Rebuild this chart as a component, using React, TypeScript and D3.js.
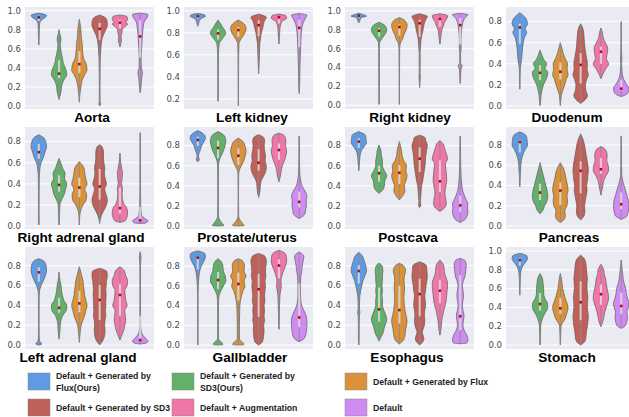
import React from "react";
import * as d3 from "d3";

type Shape = [number, number][];

const groups = [
  ["Default + Generated by", "Flux(Ours)"],
  ["Default + Generated by", "SD3(Ours)"],
  ["Default + Generated by Flux"],
  ["Default + Generated by SD3"],
  ["Default + Augmentation"],
  ["Default"],
];
const colors = ["#5E9BE3", "#62B06A", "#DA923A", "#C0605A", "#F076AA", "#D08BF2"];

const organs = [
  "Aorta", "Left kidney", "Right kidney", "Duodenum",
  "Right adrenal gland", "Prostate/uterus", "Postcava", "Pancreas",
  "Left adrenal gland", "Gallbladder", "Esophagus", "Stomach",
];
const titleCenters = [92, 252, 410, 567, 81, 247, 408, 569, 78, 250, 407, 567];

const yDomains: [number, number][] = [
  [-0.031, 1.039], [0.109, 1.034], [-0.039, 1.042], [-0.028, 0.939],
  [-0.028, 0.939], [-0.03, 0.986], [-0.03, 0.986], [-0.03, 0.978],
  [-0.04, 0.989], [-0.04, 0.995], [-0.04, 0.989], [-0.043, 1.043],
];
const ticksFull = [0, 0.2, 0.4, 0.6, 0.8, 1.0];
const ticksKidney = [0.2, 0.4, 0.6, 0.8, 1.0];
const ticks08 = [0, 0.2, 0.4, 0.6, 0.8];
const yTicks = [
  ticksFull, ticksKidney, ticksFull, ticks08,
  ticks08, ticks08, ticks08, ticks08,
  ticks08, ticks08, ticks08, ticksFull,
];

// violin profiles: [value, relative half-width]
const aortaShapes: Shape[] = [
  [[0.64,0],[0.7,0.04],[0.8,0.06],[0.86,0.1],[0.9,0.3],[0.93,0.85],[0.95,1],[0.965,0.6],[0.975,0]],
  [[0.07,0],[0.1,0.1],[0.15,0.25],[0.22,0.35],[0.27,0.6],[0.33,1],[0.38,0.9],[0.45,0.55],[0.5,0.45],[0.55,0.3],[0.6,0.2],[0.65,0.15],[0.7,0.25],[0.75,0.12],[0.8,0]],
  [[0.04,0],[0.1,0.05],[0.2,0.2],[0.28,0.4],[0.33,0.7],[0.38,1],[0.45,0.85],[0.5,0.55],[0.55,0.45],[0.6,0.4],[0.67,0.35],[0.72,0.25],[0.8,0.2],[0.86,0.1],[0.91,0]],
  [[0.0,0],[0.02,0.1],[0.05,0.05],[0.2,0.04],[0.4,0.06],[0.5,0.08],[0.6,0.15],[0.7,0.3],[0.75,0.5],[0.8,0.8],[0.85,1],[0.9,0.95],[0.93,0.7],[0.955,0]],
  [[0.62,0],[0.65,0.1],[0.7,0.2],[0.73,0.15],[0.76,0.25],[0.8,0.3],[0.83,0.6],[0.86,1],[0.88,0.8],[0.91,1],[0.94,0.9],[0.955,0]],
  [[0.14,0],[0.2,0.1],[0.3,0.2],[0.35,0.3],[0.4,0.15],[0.5,0.12],[0.6,0.18],[0.7,0.25],[0.8,0.35],[0.88,0.5],[0.93,0.9],[0.96,1],[0.975,0]],
];
const aortaMedians = [0.93, 0.34, 0.44, 0.81, 0.875, 0.73];

const leftKidneyShapes: Shape[] = [
  [[0.86,0],[0.88,0.1],[0.91,0.2],[0.93,0.45],[0.95,1],[0.965,0.8],[0.975,0]],
  [[0.18,0],[0.3,0.02],[0.5,0.03],[0.6,0.05],[0.7,0.15],[0.75,0.6],[0.8,1],[0.85,0.6],[0.88,0.35],[0.915,0]],
  [[0.14,0],[0.3,0.02],[0.5,0.03],[0.6,0.04],[0.7,0.08],[0.75,0.4],[0.8,0.85],[0.84,1],[0.88,0.75],[0.915,0]],
  [[0.43,0],[0.5,0.05],[0.6,0.1],[0.7,0.15],[0.75,0.25],[0.8,0.35],[0.85,0.55],[0.9,0.7],[0.94,1],[0.97,0]],
  [[0.7,0],[0.75,0.05],[0.8,0.1],[0.85,0.15],[0.88,0.25],[0.91,0.5],[0.93,1],[0.955,0.9],[0.97,0]],
  [[0.25,0],[0.3,0.05],[0.4,0.08],[0.5,0.1],[0.6,0.15],[0.7,0.2],[0.8,0.28],[0.88,0.45],[0.93,0.8],[0.96,1],[0.975,0]],
];
const leftKidneyMedians = [0.95, 0.795, 0.825, 0.87, 0.94, 0.845];

const rightKidneyShapes: Shape[] = [
  [[0.875,0],[0.9,0.15],[0.93,0.3],[0.945,1],[0.96,0.6],[0.975,0]],
  [[0.01,0],[0.2,0.02],[0.4,0.02],[0.6,0.03],[0.66,0.06],[0.7,0.3],[0.75,0.75],[0.8,1],[0.85,0.7],[0.88,0]],
  [[0.01,0],[0.3,0.02],[0.5,0.03],[0.6,0.05],[0.65,0.1],[0.7,0.4],[0.75,0.6],[0.8,0.9],[0.85,1],[0.9,0.7],[0.93,0]],
  [[0.19,0],[0.25,0.05],[0.3,0.08],[0.35,0.05],[0.45,0.06],[0.5,0.07],[0.55,0.05],[0.6,0.1],[0.7,0.18],[0.75,0.3],[0.8,0.45],[0.85,0.55],[0.9,0.75],[0.94,1],[0.97,0]],
  [[0.65,0],[0.7,0.1],[0.75,0.15],[0.8,0.25],[0.85,0.5],[0.88,0.6],[0.92,0.9],[0.95,1],[0.97,0]],
  [[0.23,0],[0.3,0.05],[0.38,0.1],[0.42,0.25],[0.45,0.05],[0.55,0.05],[0.6,0.12],[0.7,0.1],[0.8,0.2],[0.88,0.35],[0.93,0.65],[0.96,1],[0.975,0]],
];
const rightKidneyMedians = [0.95, 0.79, 0.83, 0.87, 0.915, 0.85];

const duodenumShapes: Shape[] = [
  [[0.16,0],[0.25,0.03],[0.35,0.06],[0.4,0.15],[0.45,0.25],[0.5,0.3],[0.55,0.35],[0.6,0.45],[0.65,0.6],[0.7,0.9],[0.73,0.7],[0.78,1],[0.83,0.8],[0.885,0]],
  [[0.005,0],[0.05,0.05],[0.1,0.1],[0.15,0.2],[0.2,0.35],[0.24,0.55],[0.28,0.75],[0.32,0.8],[0.36,0.5],[0.4,0.7],[0.44,0.4],[0.48,0.2],[0.53,0]],
  [[0.005,0],[0.05,0.05],[0.1,0.1],[0.15,0.25],[0.2,0.45],[0.25,0.6],[0.3,0.8],[0.35,0.7],[0.4,0.75],[0.45,0.5],[0.5,0.3],[0.55,0.15],[0.6,0]],
  [[0.025,0],[0.05,0.4],[0.1,0.8],[0.15,0.6],[0.2,0.55],[0.25,0.7],[0.3,0.9],[0.35,0.75],[0.4,0.8],[0.45,0.7],[0.5,0.6],[0.55,0.5],[0.6,0.45],[0.65,0.4],[0.7,0.35],[0.75,0.2],[0.78,0]],
  [[0.26,0],[0.3,0.2],[0.35,0.5],[0.4,0.85],[0.45,0.6],[0.5,0.7],[0.55,0.75],[0.6,0.5],[0.65,0.25],[0.7,0.15],[0.74,0]],
  [[0.09,0],[0.1,0.4],[0.13,0.9],[0.17,1],[0.2,0.75],[0.25,0.35],[0.3,0.15],[0.35,0.1],[0.4,0.05],[0.45,0.1],[0.5,0.05],[0.6,0.03],[0.7,0.02],[0.8,0]],
];
const duodenumMedians = [0.745, 0.315, 0.325, 0.39, 0.515, 0.165];

const rightAdrenalShapes: Shape[] = [
  [[0.01,0],[0.03,0.05],[0.1,0.03],[0.3,0.04],[0.45,0.06],[0.55,0.15],[0.6,0.3],[0.65,0.6],[0.7,0.8],[0.75,1],[0.8,0.9],[0.84,0.6],[0.865,0]],
  [[0.01,0],[0.1,0.05],[0.2,0.1],[0.25,0.3],[0.3,0.6],[0.35,0.75],[0.4,0.9],[0.45,0.65],[0.5,0.7],[0.55,0.4],[0.6,0.2],[0.64,0]],
  [[0.01,0],[0.1,0.05],[0.15,0.15],[0.2,0.4],[0.25,0.75],[0.3,0.8],[0.35,0.6],[0.4,0.85],[0.45,0.7],[0.5,0.6],[0.55,0.5],[0.61,0]],
  [[0.025,0],[0.1,0.2],[0.15,0.5],[0.2,0.8],[0.25,0.9],[0.3,0.75],[0.35,0.6],[0.4,0.8],[0.45,0.65],[0.5,0.55],[0.55,0.6],[0.6,0.5],[0.65,0.45],[0.7,0.45],[0.75,0.3],[0.77,0]],
  [[0.035,0],[0.05,0.6],[0.08,0.8],[0.12,0.9],[0.17,0.8],[0.22,0.4],[0.3,0.25],[0.35,0.3],[0.4,0.2],[0.45,0.25],[0.5,0.3],[0.55,0.2],[0.6,0.1],[0.69,0]],
  [[0.025,0],[0.03,0.6],[0.05,0.8],[0.07,0.5],[0.1,0.15],[0.2,0.05],[0.4,0.02],[0.6,0.02],[0.885,0]],
];
const rightAdrenalMedians = [0.70, 0.39, 0.365, 0.375, 0.17, 0.055];

const prostateShapes: Shape[] = [
  [[0.64,0],[0.66,0.2],[0.69,0.1],[0.72,0.15],[0.75,0.3],[0.8,0.5],[0.84,0.8],[0.88,1],[0.92,0.7],[0.95,0]],
  [[0.0,0],[0.005,0.75],[0.03,0.5],[0.07,0.15],[0.1,0.04],[0.3,0.02],[0.5,0.03],[0.6,0.06],[0.65,0.15],[0.7,0.4],[0.75,0.7],[0.8,0.9],[0.85,1],[0.9,0.8],[0.94,0]],
  [[0.0,0],[0.005,0.75],[0.03,0.5],[0.06,0.2],[0.1,0.04],[0.3,0.02],[0.5,0.04],[0.55,0.1],[0.6,0.4],[0.65,0.7],[0.7,0.9],[0.75,1],[0.8,0.85],[0.85,0.5],[0.875,0]],
  [[0.285,0],[0.32,0.1],[0.35,0.15],[0.4,0.2],[0.45,0.3],[0.5,0.6],[0.55,0.85],[0.6,0.9],[0.65,0.75],[0.7,0.8],[0.75,0.7],[0.8,0.65],[0.85,0.7],[0.88,0.6],[0.91,0]],
  [[0.44,0],[0.5,0.2],[0.55,0.3],[0.6,0.45],[0.65,0.7],[0.7,0.9],[0.75,1],[0.8,0.85],[0.85,0.9],[0.9,0.7],[0.925,0]],
  [[0.075,0],[0.1,0.5],[0.13,0.75],[0.17,0.8],[0.2,0.9],[0.25,0.85],[0.3,0.95],[0.35,0.7],[0.4,0.35],[0.45,0.2],[0.5,0.1],[0.6,0.05],[0.7,0.03],[0.895,0]],
];
const prostateMedians = [0.857, 0.777, 0.70, 0.63, 0.757, 0.24];

const postcavaShapes: Shape[] = [
  [[0.55,0],[0.6,0.05],[0.65,0.1],[0.7,0.15],[0.75,0.3],[0.8,0.7],[0.83,0.9],[0.86,0.85],[0.9,0.8],[0.94,0]],
  [[0.325,0],[0.35,0.3],[0.4,0.55],[0.45,0.6],[0.5,0.8],[0.55,0.55],[0.6,0.35],[0.65,0.35],[0.7,0.25],[0.75,0.2],[0.805,0]],
  [[0.26,0],[0.3,0.3],[0.35,0.5],[0.4,0.45],[0.45,0.6],[0.5,0.7],[0.55,0.6],[0.6,0.65],[0.65,0.4],[0.7,0.25],[0.75,0.2],[0.8,0.1],[0.84,0]],
  [[0.185,0],[0.2,0.15],[0.25,0.1],[0.3,0.15],[0.35,0.2],[0.4,0.25],[0.45,0.4],[0.5,0.5],[0.55,0.6],[0.6,0.7],[0.65,0.75],[0.7,0.8],[0.75,0.9],[0.8,1],[0.85,0.8],[0.88,0.7],[0.905,0]],
  [[0.145,0],[0.18,0.5],[0.22,0.7],[0.27,0.65],[0.32,0.55],[0.37,0.6],[0.42,0.7],[0.47,0.75],[0.52,0.7],[0.57,0.65],[0.62,0.6],[0.67,0.85],[0.72,0.7],[0.78,0.5],[0.82,0.35],[0.85,0]],
  [[0.035,0],[0.06,0.5],[0.1,0.8],[0.14,0.9],[0.18,0.85],[0.22,0.9],[0.26,0.7],[0.3,0.5],[0.35,0.3],[0.4,0.2],[0.5,0.1],[0.6,0.06],[0.7,0.04],[0.8,0.03],[0.895,0]],
];
const postcavaMedians = [0.84, 0.525, 0.53, 0.67, 0.445, 0.205];

const pancreasShapes: Shape[] = [
  [[0.39,0],[0.45,0.04],[0.5,0.05],[0.55,0.1],[0.6,0.12],[0.65,0.2],[0.7,0.35],[0.75,0.6],[0.8,0.9],[0.85,0.85],[0.89,0.75],[0.93,0]],
  [[0.12,0],[0.15,0.2],[0.2,0.35],[0.25,0.55],[0.3,0.6],[0.35,0.55],[0.4,0.45],[0.45,0.35],[0.5,0.25],[0.55,0.15],[0.625,0]],
  [[0.035,0],[0.06,0.3],[0.1,0.45],[0.15,0.4],[0.2,0.6],[0.25,0.65],[0.3,0.6],[0.35,0.7],[0.4,0.65],[0.45,0.55],[0.5,0.45],[0.55,0.35],[0.625,0]],
  [[0.06,0],[0.1,0.4],[0.15,0.5],[0.2,0.45],[0.25,0.55],[0.3,0.65],[0.35,0.75],[0.4,0.7],[0.45,0.8],[0.5,0.85],[0.55,0.9],[0.6,0.85],[0.65,0.75],[0.7,0.65],[0.75,0.55],[0.8,0.45],[0.85,0.3],[0.91,0]],
  [[0.305,0],[0.35,0.1],[0.4,0.2],[0.45,0.3],[0.5,0.55],[0.55,0.8],[0.6,0.75],[0.65,0.6],[0.7,0.65],[0.75,0.5],[0.785,0]],
  [[0.065,0],[0.1,0.6],[0.15,0.75],[0.2,0.8],[0.25,0.75],[0.3,0.6],[0.35,0.45],[0.4,0.3],[0.45,0.15],[0.5,0.06],[0.6,0.04],[0.7,0.03],[0.89,0]],
];
const pancreasMedians = [0.83, 0.33, 0.35, 0.545, 0.56, 0.215];

const leftAdrenalShapes: Shape[] = [
  [[0.0,0],[0.01,0.4],[0.04,0.1],[0.1,0.04],[0.3,0.03],[0.5,0.05],[0.55,0.1],[0.6,0.3],[0.65,0.6],[0.7,0.85],[0.75,1],[0.8,0.95],[0.85,0.6],[0.87,0]],
  [[0.06,0],[0.1,0.05],[0.15,0.1],[0.2,0.12],[0.25,0.2],[0.3,0.4],[0.35,0.75],[0.4,0.8],[0.45,0.5],[0.5,0.35],[0.55,0.25],[0.6,0.2],[0.65,0.1],[0.735,0]],
  [[0.027,0],[0.1,0.05],[0.2,0.15],[0.25,0.3],[0.3,0.45],[0.35,0.55],[0.4,0.65],[0.45,0.55],[0.5,0.45],[0.55,0.4],[0.6,0.35],[0.65,0.3],[0.7,0.2],[0.79,0]],
  [[0.0,0],[0.03,0.3],[0.08,0.6],[0.15,0.7],[0.2,0.65],[0.25,0.7],[0.3,0.8],[0.35,0.75],[0.4,0.8],[0.45,0.8],[0.5,0.85],[0.55,0.8],[0.6,0.85],[0.65,0.9],[0.7,1],[0.74,0.95],[0.775,0]],
  [[0.05,0],[0.1,0.2],[0.15,0.4],[0.2,0.5],[0.25,0.6],[0.3,0.55],[0.35,0.5],[0.4,0.75],[0.45,0.6],[0.5,0.55],[0.55,0.5],[0.6,0.75],[0.65,0.8],[0.7,0.6],[0.75,0.45],[0.79,0]],
  [[0.01,0],[0.02,0.7],[0.04,0.9],[0.07,0.6],[0.1,0.3],[0.15,0.1],[0.2,0.05],[0.4,0.03],[0.6,0.03],[0.8,0.03],[0.88,0.1],[0.94,0]],
];
const leftAdrenalMedians = [0.733, 0.375, 0.42, 0.455, 0.505, 0.05];

const gallbladderShapes: Shape[] = [
  [[0.0,0],[0.1,0.02],[0.3,0.03],[0.5,0.03],[0.6,0.06],[0.65,0.1],[0.7,0.15],[0.75,0.25],[0.8,0.45],[0.85,0.8],[0.9,1],[0.93,0.9],[0.955,0]],
  [[0.0,0],[0.005,0.5],[0.03,0.35],[0.06,0.05],[0.2,0.03],[0.4,0.04],[0.5,0.1],[0.55,0.3],[0.6,0.55],[0.65,0.8],[0.7,0.75],[0.75,0.55],[0.8,0.5],[0.85,0.3],[0.876,0]],
  [[0.0,0],[0.005,0.55],[0.03,0.4],[0.06,0.1],[0.2,0.1],[0.3,0.12],[0.4,0.15],[0.5,0.3],[0.55,0.45],[0.6,0.65],[0.65,0.55],[0.7,0.75],[0.75,0.55],[0.8,0.6],[0.85,0.45],[0.876,0]],
  [[0.0,0],[0.02,0.3],[0.06,0.5],[0.1,0.55],[0.15,0.6],[0.2,0.55],[0.25,0.65],[0.3,0.6],[0.35,0.65],[0.4,0.6],[0.45,0.7],[0.5,0.65],[0.55,0.7],[0.6,0.75],[0.65,0.7],[0.7,0.8],[0.75,0.75],[0.8,0.8],[0.85,0.85],[0.9,0.7],[0.93,0]],
  [[0.16,0],[0.2,0.03],[0.3,0.05],[0.4,0.08],[0.5,0.12],[0.55,0.2],[0.6,0.3],[0.65,0.25],[0.7,0.35],[0.75,0.55],[0.8,0.8],[0.85,0.95],[0.9,0.9],[0.93,0.75],[0.962,0]],
  [[0.034,0],[0.06,0.5],[0.1,0.75],[0.15,0.85],[0.2,0.9],[0.25,0.9],[0.3,0.8],[0.35,0.55],[0.4,0.3],[0.45,0.2],[0.5,0.15],[0.6,0.15],[0.7,0.2],[0.75,0.3],[0.8,0.35],[0.85,0.45],[0.9,0.55],[0.945,0]],
];
const gallbladderMedians = [0.887, 0.66, 0.62, 0.567, 0.807, 0.28];

const esophagusShapes: Shape[] = [
  [[0,0],[0.05,0.04],[0.2,0.05],[0.3,0.08],[0.33,0.15],[0.36,0.08],[0.45,0.1],[0.5,0.15],[0.55,0.25],[0.6,0.4],[0.65,0.55],[0.7,0.8],[0.75,1],[0.8,0.9],[0.85,0.7],[0.9,0.45],[0.935,0]],
  [[0.04,0],[0.08,0.2],[0.12,0.4],[0.18,0.55],[0.22,0.7],[0.26,0.8],[0.3,0.7],[0.35,0.5],[0.4,0.35],[0.45,0.35],[0.5,0.3],[0.55,0.35],[0.6,0.3],[0.65,0.35],[0.7,0.35],[0.75,0.4],[0.8,0.3],[0.825,0]],
  [[0.01,0],[0.05,0.4],[0.1,0.55],[0.15,0.6],[0.2,0.7],[0.25,0.75],[0.3,0.65],[0.35,0.55],[0.4,0.5],[0.45,0.45],[0.5,0.45],[0.55,0.5],[0.6,0.5],[0.65,0.45],[0.7,0.5],[0.75,0.6],[0.8,0.4],[0.825,0]],
  [[0,0],[0.03,0.35],[0.06,0.5],[0.1,0.4],[0.13,0.3],[0.17,0.45],[0.2,0.55],[0.25,0.6],[0.3,0.55],[0.35,0.6],[0.4,0.7],[0.45,0.65],[0.5,0.6],[0.55,0.7],[0.6,0.75],[0.65,0.85],[0.7,0.9],[0.75,0.85],[0.8,0.8],[0.84,0]],
  [[0.1,0],[0.15,0.1],[0.2,0.15],[0.25,0.2],[0.3,0.3],[0.35,0.4],[0.4,0.55],[0.45,0.65],[0.5,0.7],[0.55,0.75],[0.6,0.8],[0.65,0.75],[0.7,0.55],[0.75,0.45],[0.8,0.4],[0.857,0]],
  [[0.013,0],[0.02,0.6],[0.05,0.7],[0.1,0.6],[0.15,0.35],[0.2,0.25],[0.25,0.3],[0.3,0.35],[0.35,0.25],[0.4,0.2],[0.45,0.25],[0.5,0.3],[0.55,0.25],[0.6,0.2],[0.65,0.3],[0.7,0.45],[0.75,0.5],[0.8,0.55],[0.85,0.45],[0.874,0]],
];
const esophagusMedians = [0.746, 0.36, 0.353, 0.514, 0.548, 0.29];

const stomachShapes: Shape[] = [
  [[0.53,0],[0.6,0.03],[0.7,0.06],[0.75,0.1],[0.8,0.2],[0.85,0.45],[0.88,0.75],[0.92,1],[0.95,0.9],[0.975,0]],
  [[0,0],[0.1,0.03],[0.2,0.06],[0.25,0.15],[0.3,0.3],[0.35,0.55],[0.4,0.75],[0.45,0.7],[0.5,0.45],[0.55,0.35],[0.6,0.35],[0.65,0.3],[0.7,0.25],[0.76,0]],
  [[0,0],[0.1,0.03],[0.2,0.06],[0.24,0.2],[0.28,0.4],[0.32,0.5],[0.36,0.6],[0.4,0.65],[0.45,0.55],[0.5,0.4],[0.55,0.3],[0.6,0.2],[0.65,0.15],[0.7,0.1],[0.76,0]],
  [[0,0],[0.02,0.3],[0.06,0.55],[0.1,0.6],[0.15,0.65],[0.2,0.75],[0.25,0.8],[0.3,0.85],[0.35,0.8],[0.4,0.75],[0.45,0.75],[0.5,0.8],[0.55,0.75],[0.6,0.7],[0.65,0.7],[0.7,0.75],[0.75,0.7],[0.8,0.65],[0.85,0.6],[0.9,0.5],[0.957,0]],
  [[0.195,0],[0.25,0.2],[0.3,0.3],[0.35,0.4],[0.4,0.55],[0.45,0.7],[0.5,0.8],[0.55,0.75],[0.6,0.65],[0.65,0.55],[0.7,0.5],[0.75,0.35],[0.8,0.3],[0.858,0]],
  [[0.177,0],[0.2,0.35],[0.25,0.55],[0.3,0.6],[0.35,0.55],[0.4,0.7],[0.45,0.75],[0.5,0.6],[0.55,0.5],[0.6,0.45],[0.65,0.3],[0.7,0.2],[0.75,0.15],[0.8,0.1],[0.904,0]],
];
const stomachMedians = [0.904, 0.436, 0.39, 0.454, 0.54, 0.415];

const allShapes = [
  aortaShapes, leftKidneyShapes, rightKidneyShapes, duodenumShapes,
  rightAdrenalShapes, prostateShapes, postcavaShapes, pancreasShapes,
  leftAdrenalShapes, gallbladderShapes, esophagusShapes, stomachShapes,
];
const allMedians = [
  aortaMedians, leftKidneyMedians, rightKidneyMedians, duodenumMedians,
  rightAdrenalMedians, prostateMedians, postcavaMedians, pancreasMedians,
  leftAdrenalMedians, gallbladderMedians, esophagusMedians, stomachMedians,
];

// layout
const W = 629, H = 417;
const colLefts = [25, 184, 345, 506];
const rowTops = [7, 127, 247];
const panelW = 129, panelH = 102;

function quantile(shape: Shape, q: number): number {
  const cum: number[] = [0];
  for (let i = 1; i < shape.length; i++) {
    const [v0, w0] = shape[i - 1];
    const [v1, w1] = shape[i];
    cum.push(cum[i - 1] + ((w0 + w1) / 2) * (v1 - v0));
  }
  const total = cum[cum.length - 1];
  const target = q * total;
  for (let i = 1; i < shape.length; i++) {
    if (cum[i] >= target) {
      const f = (target - cum[i - 1]) / Math.max(1e-9, cum[i] - cum[i - 1]);
      return shape[i - 1][0] + f * (shape[i][0] - shape[i - 1][0]);
    }
  }
  return shape[shape.length - 1][0];
}

function Panel({ idx }: { idx: number }) {
  const col = idx % 4, row = Math.floor(idx / 4);
  const left = colLefts[col], top = rowTops[row];
  const x = d3.scalePoint<number>().domain(d3.range(6)).range([left, left + panelW]).padding(0.68);
  const step = x.step();
  const y = d3.scaleLinear().domain(yDomains[idx]).range([top + panelH, top]);
  const halfMax = step * 0.38;
  const shapes = allShapes[idx];
  const medians = allMedians[idx];
  return (
    <g>
      <rect x={left} y={top} width={panelW} height={panelH} fill="#EAEAF2" />
      {yTicks[idx].map((t) => (
        <g key={t}>
          <line x1={left} x2={left + panelW} y1={y(t)} y2={y(t)} stroke="#fff" strokeWidth={1} />
          <text x={left - 4} y={y(t)} dy="0.33em" textAnchor="end" fontSize={8.5} fill="#4a4a4a" fontFamily="DejaVu Sans, sans-serif">
            {t.toFixed(1)}
          </text>
        </g>
      ))}
      {shapes.map((shape, i) => {
        const cx = x(i)!;
        const maxW = d3.max(shape, (d) => d[1]) || 1;
        const area = d3
          .area<[number, number]>()
          .y((d) => y(d[0]))
          .x0((d) => cx - (d[1] / maxW) * halfMax)
          .x1((d) => cx + (d[1] / maxW) * halfMax)
          .curve(d3.curveMonotoneY);
        const vmin = shape[0][0], vmax = shape[shape.length - 1][0];
        const q1 = quantile(shape, 0.25), q3 = quantile(shape, 0.75);
        return (
          <g key={i}>
            <path d={area(shape) || ""} fill={colors[i]} stroke="#5c5c5c" strokeWidth={0.7} />
            <line x1={cx} x2={cx} y1={y(vmin)} y2={y(vmax)} stroke="#8a8a8a" strokeWidth={0.9} />
            <line x1={cx} x2={cx} y1={y(q1)} y2={y(q3)} stroke="#e4e4e4" strokeWidth={2} opacity={0.8} />
            <rect x={cx - 1.3} y={y(medians[i]) - 1.3} width={2.6} height={2.6} fill="#a31515" />
          </g>
        );
      })}
      <text x={titleCenters[idx]} y={top + panelH + 13} textAnchor="middle" fontSize={13.6} fontWeight="bold" fill="#000" fontFamily="Liberation Sans, Arial, sans-serif">
        {organs[idx]}
      </text>
    </g>
  );
}

const legendCols = [28, 172, 345];
const legendRows = [373, 399];

export default function App() {
  return (
    <svg width={W} height={H} style={{ position: "absolute", left: 0, top: 0, background: "#fff" }}>
      {organs.map((_, i) => (
        <Panel key={i} idx={i} />
      ))}
      {groups.map((lines, i) => {
        const lx = legendCols[i % 3];
        const ly = legendRows[Math.floor(i / 3)];
        return (
          <g key={i}>
            <rect x={lx} y={ly} width={22} height={17} fill={colors[i]} stroke="#888" strokeWidth={0.5} />
            <text x={lx + 28} y={lines.length === 2 ? ly + 6 : ly + 12} fontSize={8.7} fontWeight="bold" fill="#222" fontFamily="Liberation Sans, Arial, sans-serif">
              {lines.map((ln, k) => (
                <tspan key={k} x={lx + 28} dy={k === 0 ? 0 : 12}>{ln}</tspan>
              ))}
            </text>
          </g>
        );
      })}
    </svg>
  );
}
